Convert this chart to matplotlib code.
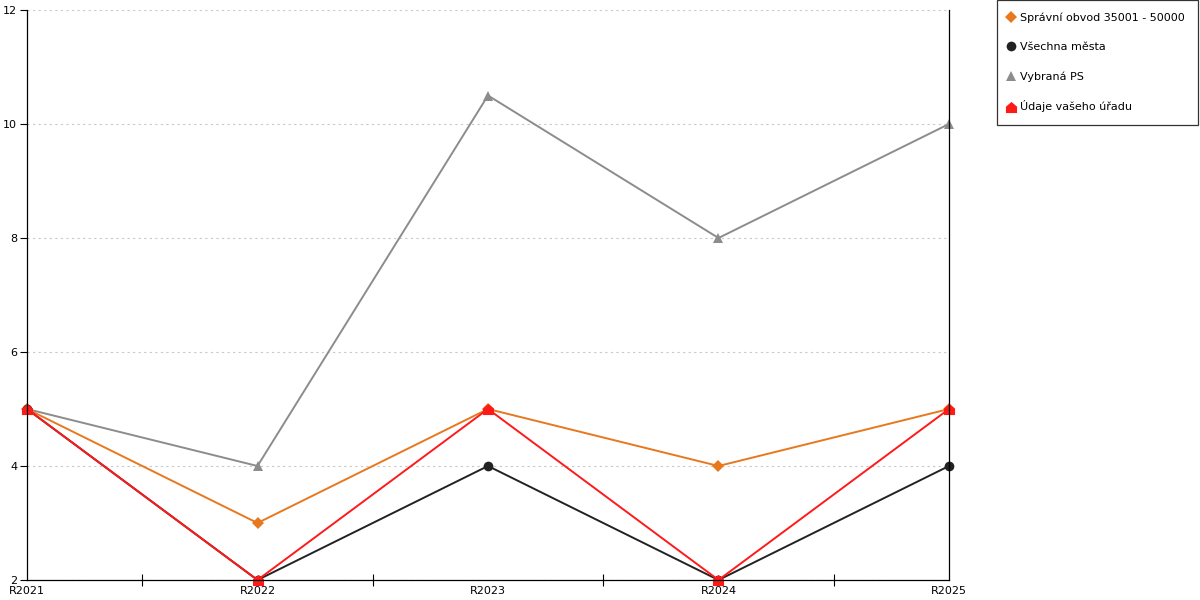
import matplotlib.pyplot as plt
import numpy as np
from matplotlib.path import Path

years = ['R2021', 'R2022', 'R2023', 'R2024', 'R2025']
spravni_obvod = [5, 3, 5, 4, 5]
vsechna_mesta = [5, 2, 4, 2, 4]
vybrana_ps = [5, 4, 10.5, 8, 10]
vas_urad = [5, 2, 5, 2, 5]

# house shaped marker for "Údaje vašeho úřadu"
house = Path([(-1, -1), (1, -1), (1, 0.15), (0, 1), (-1, 0.15), (-1, -1)],
             [Path.MOVETO, Path.LINETO, Path.LINETO, Path.LINETO, Path.LINETO, Path.CLOSEPOLY])

plt.rcParams['font.family'] = ['DejaVu Sans']
fig = plt.figure(figsize=(12, 6), dpi=100)
ax = fig.add_axes([27 / 1200, 20 / 600, (949 - 27) / 1200, (580 - 10) / 600])

x = np.arange(len(years))
series = [
    (vybrana_ps, 'Vybraná PS', '#8c8c8c', '^', 7.5),
    (spravni_obvod, 'Správní obvod 35001 - 50000', '#e8781e', 'D', 6),
    (vsechna_mesta, 'Všechna města', '#222222', 'o', 7),
    (vas_urad, 'Údaje vašeho úřadu', '#ff1a1a', house, 8),
]
handles = {}
for vals, name, col, mk, ms in series:
    h, = ax.plot(x, vals, color=col, lw=1.4, marker=mk, markersize=ms,
                 markeredgewidth=0, clip_on=False, zorder=3)
    handles[name] = h

ax.set_xlim(0, len(years) - 1)
ax.set_ylim(2, 12)
ax.set_yticks(range(2, 13, 2))
ax.yaxis.grid(True, linestyle=(0, (2, 3)), color='#c8c8c8', lw=0.8)
ax.set_axisbelow(True)

ax.set_xticks(x)
ax.set_xticklabels(years)
ax.set_xticks(np.concatenate([[0], x[:-1] + 0.5]), minor=True)
ax.tick_params(axis='x', which='major', length=0, pad=4, labelsize=8)
ax.tick_params(axis='x', which='minor', direction='inout', length=9, width=0.8)
ax.tick_params(axis='y', length=5, width=0.8, labelsize=8, pad=2)

ax.spines['top'].set_visible(False)
for s in ['left', 'bottom', 'right']:
    ax.spines[s].set_linewidth(0.9)
    ax.spines[s].set_zorder(4)

order = ['Správní obvod 35001 - 50000', 'Všechna města', 'Vybraná PS', 'Údaje vašeho úřadu']
leg_handles = [plt.Line2D([], [], ls='none', marker=handles[n].get_marker(),
                          color=handles[n].get_color(), markersize=handles[n].get_markersize(),
                          markeredgewidth=0) for n in order]
leg = fig.legend(leg_handles, order, loc='upper left', bbox_to_anchor=(997 / 1200, 1.0),
                 fontsize=8.0, frameon=True, fancybox=False, edgecolor='black',
                 handlelength=0.2, handletextpad=0.75, labelspacing=1.7,
                 borderpad=1.15, borderaxespad=0)
leg.get_frame().set_linewidth(0.9)

fig.savefig('out.png', dpi=100)
